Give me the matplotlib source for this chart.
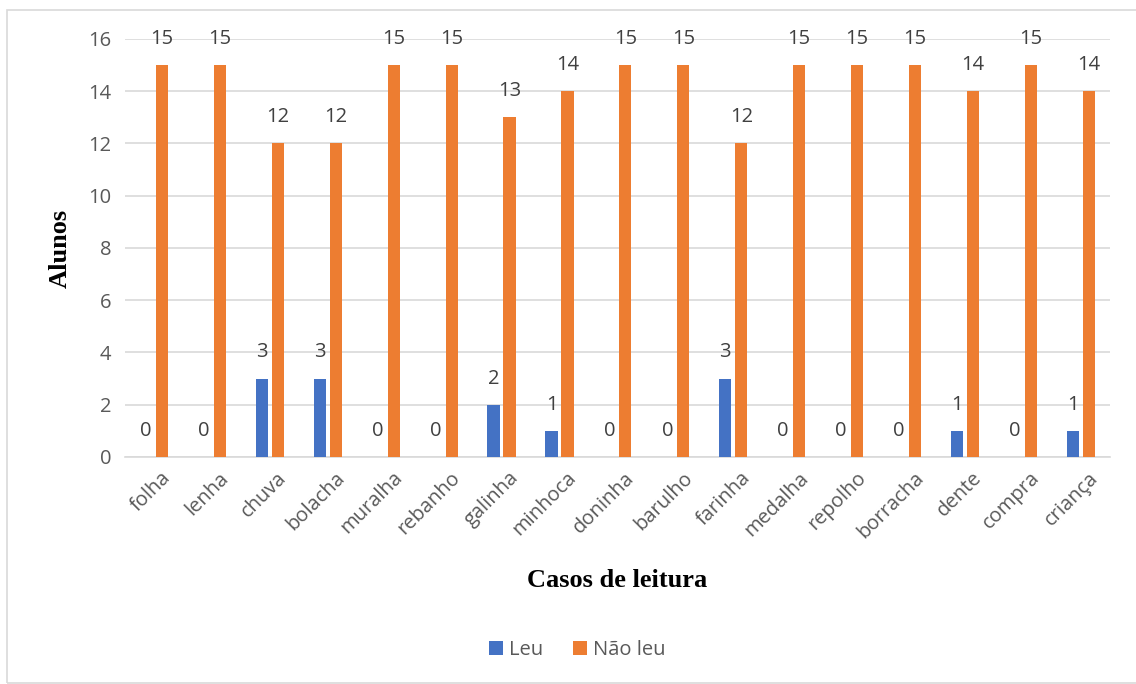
import matplotlib.pyplot as plt
import numpy as np
import matplotlib.transforms as mtransforms
from matplotlib.patches import Rectangle

words = ['folha', 'lenha', 'chuva', 'bolacha', 'muralha', 'rebanho', 'galinha',
         'minhoca', 'doninha', 'barulho', 'farinha', 'medalha', 'repolho',
         'borracha', 'dente', 'compra', 'criança']
leu = [0, 0, 3, 3, 0, 0, 2, 1, 0, 0, 3, 0, 0, 0, 1, 0, 1]
nao_leu = [15, 15, 12, 12, 15, 15, 13, 14, 15, 15, 12, 15, 15, 15, 14, 15, 14]

plt.rcParams['font.family'] = ['Open Sans', 'DejaVu Sans']

fig = plt.figure(figsize=(11.36, 6.84), dpi=100)
ax = fig.add_axes([0.110, 0.332, 0.867, 0.611])

x = np.arange(len(words))
w = 0.21
off = 0.138
b1 = ax.bar(x - off, leu, w, color='#4472C4', label='Leu', zorder=3)
b2 = ax.bar(x + off, nao_leu, w, color='#ED7D31', label='Não leu', zorder=3)

for bars in (b1, b2):
    for r in bars:
        h = r.get_height()
        ax.text(r.get_x() + r.get_width() / 2, h + 1.0, f'{int(h)}',
                ha='center', va='center', fontsize=14.5, color='#404040')

ax.set_xlim(-0.5, len(words) - 0.5)
ax.set_ylim(0, 16)
ax.set_yticks(range(0, 17, 2))
ax.grid(axis='y', color='#D9D9D9', linewidth=1.2, zorder=0)
for s in ['top', 'right', 'left']:
    ax.spines[s].set_visible(False)
ax.spines['bottom'].set_color('#D9D9D9')
ax.spines['bottom'].set_linewidth(1.2)
ax.tick_params(axis='both', length=0, labelsize=14.5, colors='#595959', pad=10)
ax.tick_params(axis='x', pad=8)
ax.set_xticks(x)
ax.set_xticklabels(words, rotation=45, ha='right', rotation_mode='anchor')
# nudge the rotated labels to the right, like the original
shift = mtransforms.ScaledTranslation(7 / 100, 0, fig.dpi_scale_trans)
for lab in ax.get_xticklabels():
    lab.set_transform(lab.get_transform() + shift)

fig.text(0.543, 0.152, 'Casos de leitura', ha='center', va='center',
         fontsize=19, fontweight='bold', family='Liberation Serif')
fig.text(0.053, 0.637, 'Alunos', ha='center', va='center', rotation=90,
         fontsize=19, fontweight='bold', family='Liberation Serif')

fig.legend(handles=[b1, b2], loc='center', bbox_to_anchor=(0.508, 0.05),
           ncol=2, frameon=False, fontsize=14.5, handlelength=0.7,
           handleheight=0.7, columnspacing=1.5, handletextpad=0.3,
           labelcolor='#595959')

fig.patches.append(Rectangle((0.006, 0.001), 1.2, 0.985, transform=fig.transFigure,
                             fill=False, edgecolor='#D9D9D9', linewidth=1.2))

fig.savefig('out.png', dpi=100)
